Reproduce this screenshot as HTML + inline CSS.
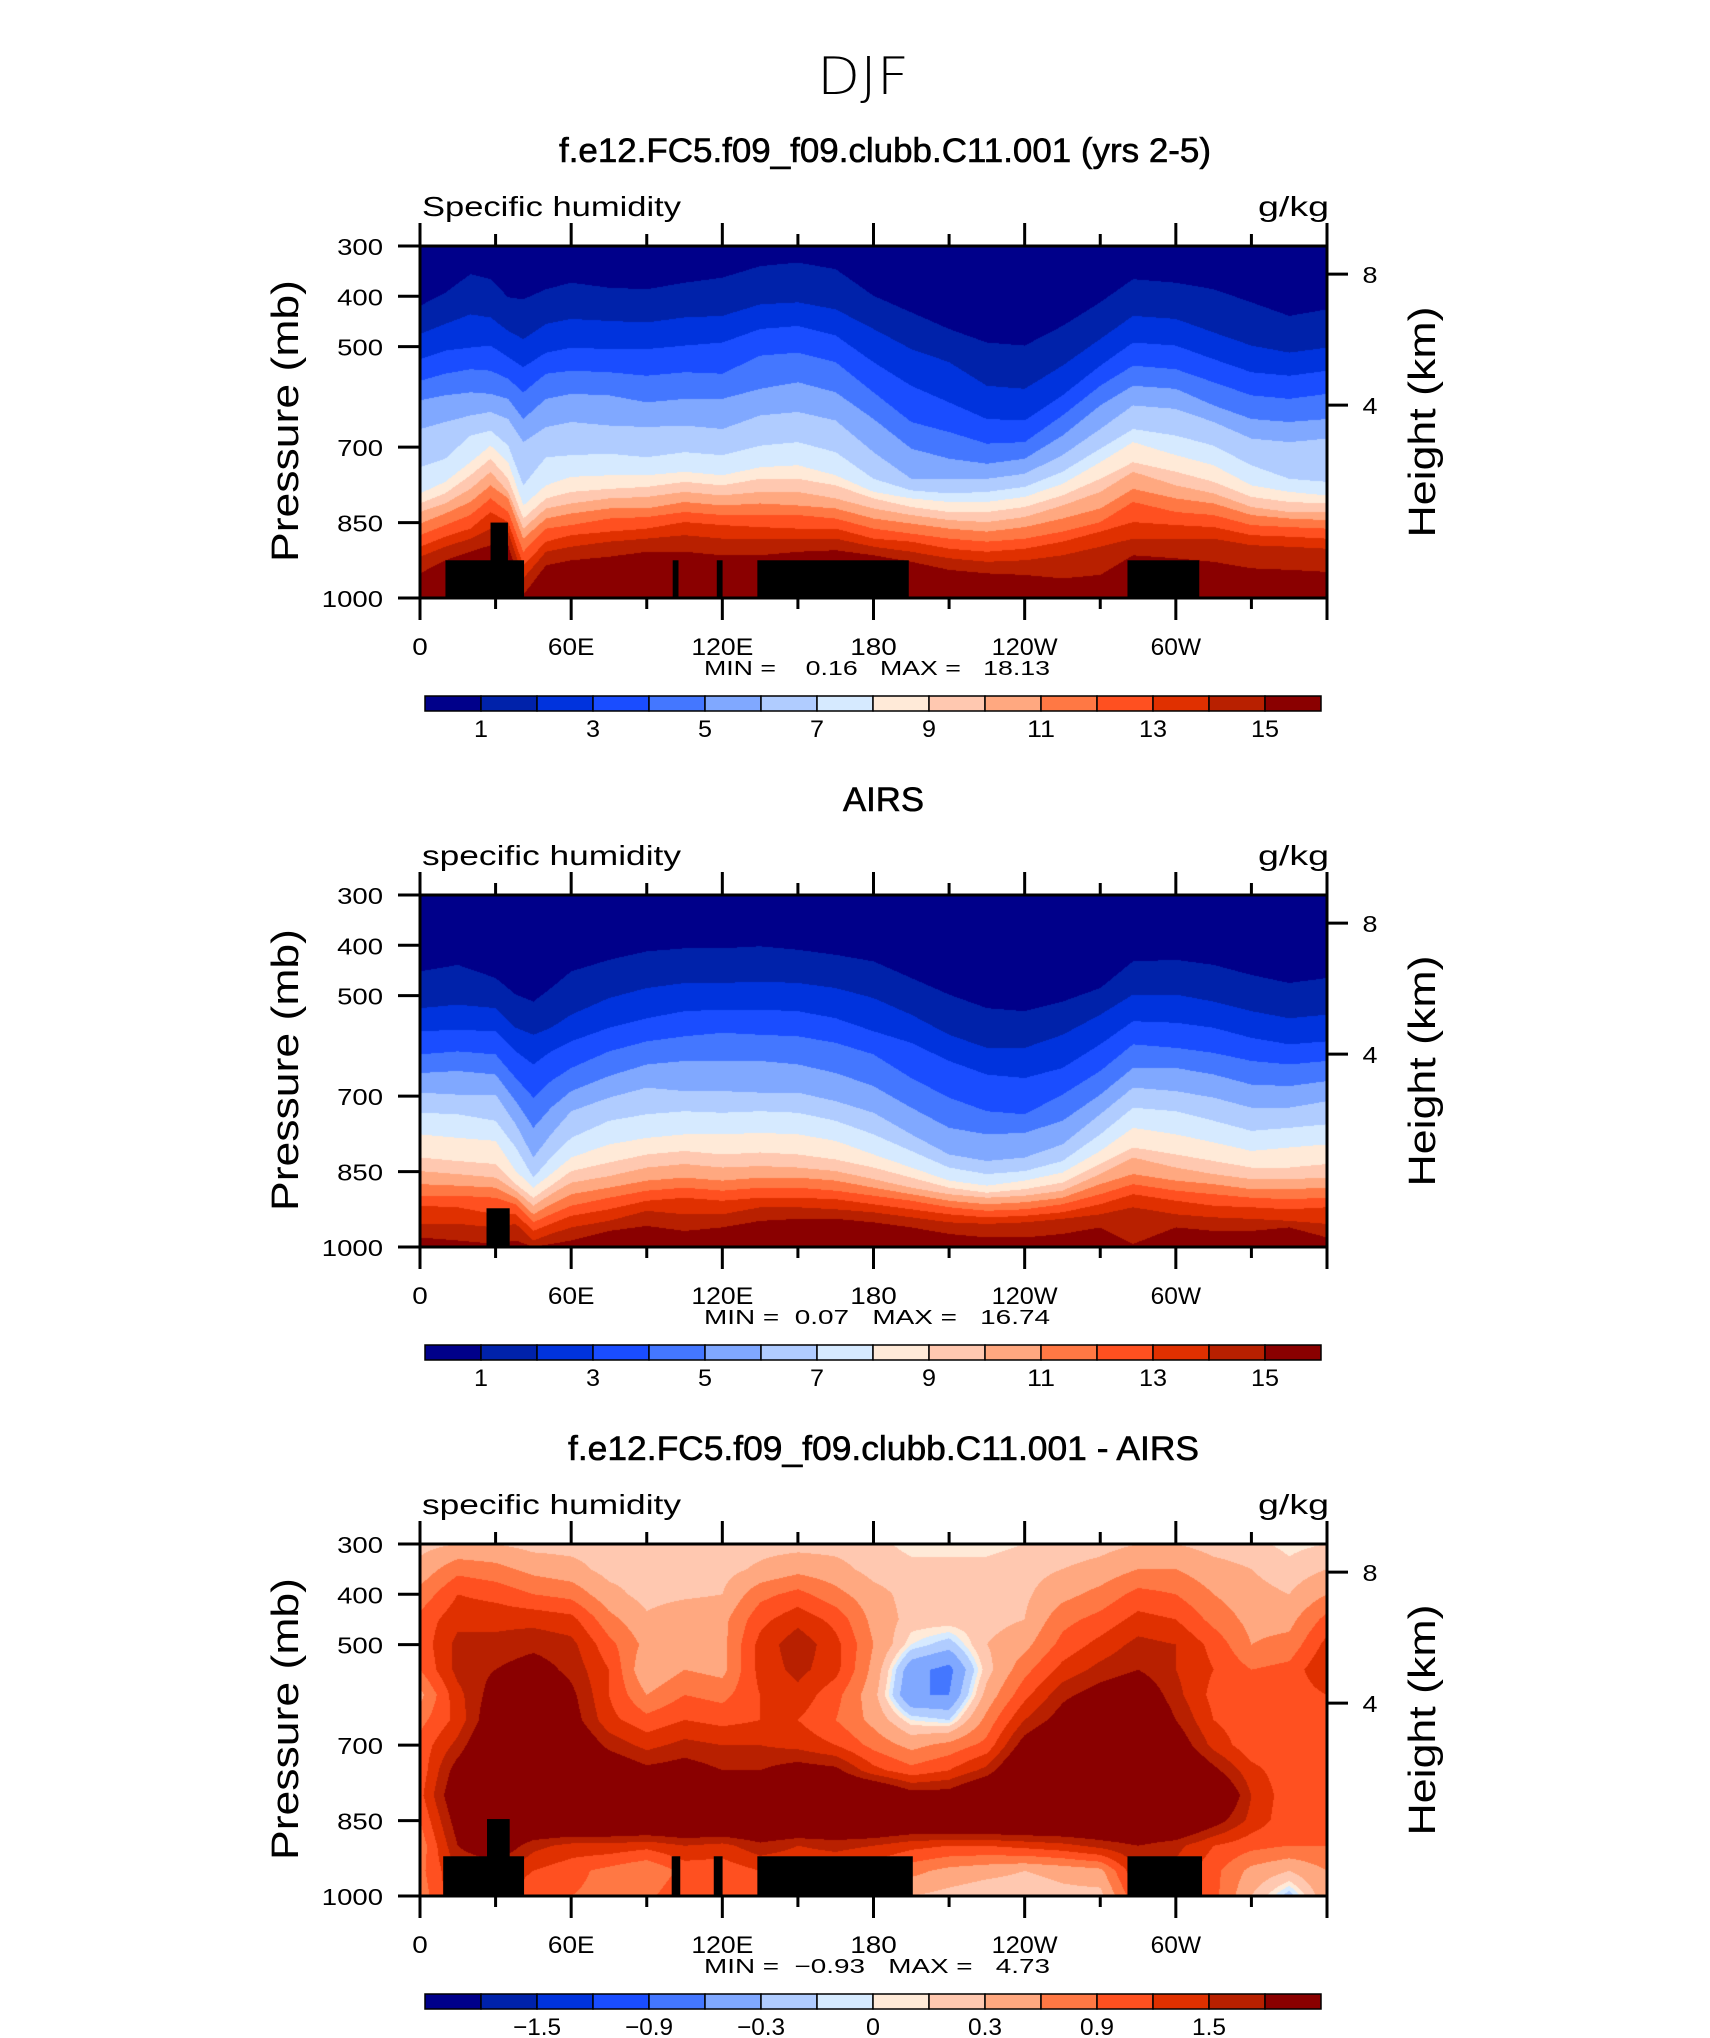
<!DOCTYPE html>
<html><head><meta charset="utf-8">
<style>
html,body{margin:0;padding:0;background:#fff;}
#wrap{position:relative;width:1710px;height:2038px;overflow:hidden;background:#fff;font-family:"Liberation Sans",sans-serif;}
canvas{position:absolute;left:420px;}
svg{position:absolute;left:0;top:0;}
</style></head>
<body>
<div id="wrap">
<canvas id="c0" width="907" height="352" style="top:246px"></canvas>
<canvas id="c1" width="907" height="352" style="top:895px"></canvas>
<canvas id="c2" width="907" height="352" style="top:1544px"></canvas>
<svg id="ov" width="1710" height="2038" xmlns="http://www.w3.org/2000/svg">
<text x="863" y="94" font-size="52" text-anchor="middle" font-weight="200" font-family="DejaVu Sans ExtraLight, DejaVu Sans, Liberation Sans, sans-serif" textLength="92" lengthAdjust="spacingAndGlyphs">DJF</text>
</svg>
</div>
<script>
// ---------- DATA ----------
const colors = ["#00008A","#0022AA","#0033DD","#1A4DFF","#4477FF","#80A8FF","#B0CCFF","#D6EAFF","#FFEAD8","#FFC8B0","#FFA880","#FF7844","#FF5020","#E03000","#B82000","#8A0000"];
const qLevels = [1,2,3,4,5,6,7,8,9,10,11,12,13,14,15];
const diffLevels = [-1.8,-1.5,-1.2,-0.9,-0.6,-0.3,-0.1,0,0.1,0.3,0.6,0.9,1.2,1.5,1.8];
const qLabels = ["1","3","5","7","9","11","13","15"];
const qLabelIdx = [0,2,4,6,8,10,12,14];
const diffLabels = ["\u22121.5","\u22120.9","\u22120.3","0","0.3","0.9","1.5"];
const diffLabelIdx = [1,3,5,7,9,11,13];
const xTickLons = [0,60,120,180,240,300];
const xTickLabels = ["0","60E","120E","180","120W","60W"];
const pTicks = [300,400,500,700,850,1000];
const hTicks = [8,4];
const titles = ["f.e12.FC5.f09_f09.clubb.C11.001 (yrs 2-5)","AIRS","f.e12.FC5.f09_f09.clubb.C11.001 - AIRS"];
const varNames = ["Specific humidity","specific humidity","specific humidity"];
const minVals = ["0.16","0.07","\u22120.93"];
const maxVals = ["18.13","16.74","4.73"];

const lonNodes1 = [0,10,20,28,35,41,50,60,75,90,105,120,135,150,165,180,195,210,225,240,255,270,283,300,315,330,345,360];
const modelContours = [
[419,475,525,568,607,664,740,792,812,829,852,875,898,918,951],
[393,455,508,554,597,650,723,769,792,812,832,855,878,898,925],
[356,436,502,545,591,637,677,730,756,783,809,835,862,882,908],
[366,442,498,548,594,630,667,697,723,749,776,802,829,862,895],
[402,469,521,564,604,644,697,730,763,789,802,829,849,868,895],
[406,485,541,591,644,690,776,816,842,862,882,908,935,961,994],
[386,455,512,554,604,660,720,776,802,822,842,862,888,908,935],
[373,445,502,548,594,650,716,759,789,812,832,855,875,898,925],
[383,449,505,551,597,657,713,756,783,802,822,842,868,888,918],
[386,452,505,558,611,660,720,756,779,799,822,839,862,882,908],
[373,442,498,551,604,657,710,749,769,789,809,829,849,875,908],
[363,439,492,554,604,664,716,756,776,796,816,835,855,882,915],
[340,416,465,518,584,637,697,740,763,789,812,835,859,882,915],
[333,412,459,512,571,630,690,736,763,789,816,835,862,882,908],
[346,426,478,531,591,647,710,756,776,802,822,842,862,882,905],
[399,465,531,591,644,710,763,789,802,822,842,862,882,898,915],
[432,505,578,650,703,763,786,802,819,835,852,872,888,908,928],
[465,531,611,670,723,763,792,809,829,845,862,882,902,921,944],
[492,578,644,693,733,763,789,809,829,849,868,888,908,928,951],
[498,584,647,690,723,753,779,799,819,839,859,882,902,925,954],
[459,538,597,637,677,716,749,773,796,816,842,868,888,915,961],
[412,485,538,578,617,664,703,730,763,789,822,849,868,898,954],
[366,439,492,538,578,617,664,690,730,749,783,809,849,882,915],
[373,445,498,545,584,624,677,716,749,776,802,829,855,882,921],
[386,472,525,571,617,650,697,736,769,792,812,835,859,882,928],
[412,498,551,597,644,683,736,776,799,819,835,855,875,895,941],
[439,512,558,604,650,690,763,789,809,829,842,859,878,898,944],
[426,502,548,594,644,683,769,796,812,829,845,862,882,902,948]
];

const lonNodes2 = [0,15,30,38,45,52,60,75,90,105,120,135,150,165,180,195,210,225,240,255,270,283,300,315,330,345,360];
const airsContours = [
[452,525,571,617,654,693,733,776,822,849,875,898,918,954,981],
[439,518,568,611,650,697,736,783,829,855,878,898,921,954,987],
[465,525,571,617,657,697,749,789,835,862,882,902,935,961,994],
[498,564,611,664,710,756,802,849,875,888,902,915,935,954,987],
[512,578,637,703,763,822,862,882,902,918,935,951,968,987,1000],
[485,564,611,670,723,776,822,855,878,895,915,935,954,974,994],
[452,538,591,644,690,730,783,822,849,872,895,918,938,961,987],
[429,505,564,611,660,703,749,796,832,859,882,902,925,948,968],
[412,485,545,591,637,683,736,783,816,842,868,888,908,928,958],
[406,475,531,581,630,690,730,776,809,835,862,882,902,935,968],
[406,475,528,574,630,690,733,776,816,842,868,888,908,935,961],
[402,472,528,578,630,693,730,773,812,839,862,882,902,921,948],
[409,475,531,581,637,693,733,776,816,842,862,882,902,921,944],
[419,485,545,594,654,710,749,789,826,849,868,888,905,925,944],
[432,505,571,617,680,733,776,816,842,865,882,898,915,931,951],
[465,538,594,664,723,776,809,842,862,882,895,908,925,941,961],
[498,578,630,703,763,816,842,868,882,895,908,921,935,951,974],
[525,604,657,730,776,829,855,878,892,902,915,928,941,954,981],
[531,604,664,736,773,822,849,868,885,898,911,925,938,951,981],
[512,578,644,697,749,796,829,852,872,888,902,915,931,944,974],
[485,538,597,650,697,736,776,809,835,855,875,895,915,935,961],
[432,498,551,597,644,683,723,763,802,822,855,875,895,921,994],
[429,498,554,604,644,690,730,776,816,842,868,888,908,935,961],
[439,512,564,614,657,703,749,792,829,855,875,895,918,941,968],
[459,531,584,630,677,723,769,809,842,865,885,902,921,944,968],
[475,545,597,637,680,723,763,802,842,865,885,905,925,948,961],
[465,538,591,630,670,710,756,796,835,862,882,902,921,954,981]
];

const lonNodes3 = [0,15,30,45,60,75,90,105,120,135,150,165,180,195,210,225,240,255,270,285,300,315,330,345,360];
const pLevels3 = [300,350,400,450,500,550,600,650,700,750,800,850,900,950,1000];
const diffValues = [
[0.2,0.4,0.7,1.0,1.0,0.9,0.5,0.8,1.0,1.0,1.1,0.9,0.7,0.8,0.7],
[0.3,0.8,1.2,1.4,1.6,1.6,1.4,1.3,1.6,2.0,2.2,2.0,1.8,1.5,1.5],
[0.3,0.7,1.1,1.4,1.6,1.8,2.0,2.2,2.5,2.5,2.5,2.5,2.2,1.5,1.5],
[0.2,0.5,0.9,1.4,1.7,2.0,2.3,2.2,2.5,2.5,2.5,2.5,1.6,1.2,0.9],
[0.2,0.4,0.8,1.3,1.6,1.7,1.9,2.0,2.3,2.5,2.5,2.5,1.4,1.0,0.9],
[0.2,0.2,0.4,0.7,1.0,1.2,1.2,1.3,1.7,2.2,2.5,2.5,1.4,0.8,0.8],
[0.2,0.2,0.2,0.35,0.5,0.3,0.6,1.0,1.4,1.9,2.5,2.5,1.3,0.6,0.8],
[0.2,0.2,0.25,0.5,0.6,0.6,0.9,1.2,1.6,2.0,2.5,2.5,1.5,1.0,1.2],
[0.2,0.2,0.3,0.5,0.5,0.5,0.8,1.1,1.5,1.8,2.3,2.5,1.4,1.0,1.0],
[0.2,0.35,0.8,1.1,1.3,1.3,1.2,1.2,1.5,1.8,2.3,2.5,1.7,1.2,1.0],
[0.2,0.5,1.0,1.4,1.7,1.6,1.4,1.2,1.4,2.0,2.5,2.5,1.5,1.2,1.2],
[0.2,0.4,0.7,1.1,1.3,1.3,1.0,0.9,1.2,1.9,2.5,2.5,1.6,1.2,1.1],
[0.15,0.2,0.4,0.5,0.6,0.5,0.4,0.5,0.8,1.3,2.5,2.5,1.5,1.0,0.9],
[0.05,0.15,0.2,0.2,0.0,-0.5,-0.6,0.0,0.5,1.0,2.0,2.4,1.3,0.7,0.3],
[0.05,0.15,0.2,0.2,-0.2,-0.7,-0.6,-0.1,0.7,1.2,2.0,2.5,1.2,0.5,0.2],
[0.05,0.15,0.2,0.2,0.3,0.2,0.4,0.7,1.0,1.6,2.5,2.5,1.2,0.4,0.1],
[0.1,0.2,0.25,0.3,0.5,0.8,1.1,1.5,2.0,2.5,2.5,2.5,1.3,0.3,0.1],
[0.15,0.3,0.5,0.8,1.0,1.3,1.7,2.0,2.5,2.5,2.5,2.5,1.4,0.4,0.2],
[0.2,0.4,0.7,1.0,1.3,1.6,2.0,2.5,2.5,2.5,2.5,2.5,1.6,0.5,0.2],
[0.3,0.6,1.0,1.3,1.6,1.8,2.2,2.5,2.5,2.5,2.5,2.5,1.8,1.5,1.2],
[0.3,0.6,0.9,1.2,1.5,1.5,1.6,1.8,2.1,2.5,2.5,2.5,1.6,1.4,1.4],
[0.2,0.4,0.6,0.8,1.1,1.2,1.1,1.2,1.4,1.9,2.5,2.0,1.2,1.0,1.0],
[0.15,0.3,0.4,0.5,0.6,0.9,1.0,1.0,1.0,1.3,1.5,1.4,1.0,0.5,0.3],
[0.05,0.15,0.3,0.5,0.7,1.0,1.0,1.0,1.0,1.0,1.0,1.0,0.9,0.3,-0.2],
[0.1,0.3,0.6,1.0,1.3,1.5,1.2,1.0,1.0,1.0,1.0,1.0,0.9,0.6,0.5]
];

const masksModel = [[10.1,41.3,925],[28,34.9,850],[100.3,102.6,925],[117.8,120.1,925],[133.9,194,925],[280.8,309.3,925]];
const masksAirs = [[26.4,35.6,923]];
const masksDiff = [[9.2,41.3,921],[26.6,35.6,847],[99.9,103.3,921],[116.6,120.1,921],[133.9,195.6,921],[280.8,310.4,921]];

// ---------- AXES ----------
const PX = 420, PW = 907, PH = 352;
const panelTops = [246, 895, 1544];
function xScale(lon){ return PX + lon/360*PW; }
function yScale(p, top){ return top + (p-300)/700*PH; }
function hToP(km){ return 1013.25*Math.pow(1-2.25577e-5*km*1000, 5.25588); }

function interpRow(nodes, rows, lon){
  let i=0; while(i<nodes.length-2 && lon>nodes[i+1]) i++;
  const t=(lon-nodes[i])/(nodes[i+1]-nodes[i]);
  const a=rows[i], b=rows[i+1];
  return a.map((v,k)=>v+(b[k]-v)*t);
}
function hexToRgb(h){ return [parseInt(h.substr(1,2),16),parseInt(h.substr(3,2),16),parseInt(h.substr(5,2),16)]; }
const rgb = colors.map(hexToRgb);

function drawContourPanel(cid, nodes, rows){
  const cv=document.getElementById(cid), ctx=cv.getContext('2d');
  const img=ctx.createImageData(PW,PH);
  for(let x=0;x<PW;x++){
    const lon=(x+0.5)/PW*360;
    const bp=interpRow(nodes,rows,lon);
    for(let y=0;y<PH;y++){
      const p=300+(y+0.5)/PH*700;
      let band=0; for(let k=0;k<bp.length;k++) if(bp[k]<p) band++;
      const c=rgb[band], o=(y*PW+x)*4;
      img.data[o]=c[0];img.data[o+1]=c[1];img.data[o+2]=c[2];img.data[o+3]=255;
    }
  }
  ctx.putImageData(img,0,0);
}
function drawGridPanel(cid, nodes, plevs, rows, levels){
  const cv=document.getElementById(cid), ctx=cv.getContext('2d');
  const img=ctx.createImageData(PW,PH);
  for(let x=0;x<PW;x++){
    const lon=(x+0.5)/PW*360;
    const col=interpRow(nodes,rows,lon);
    for(let y=0;y<PH;y++){
      const p=300+(y+0.5)/PH*700;
      let j=0; while(j<plevs.length-2 && p>plevs[j+1]) j++;
      const t=(p-plevs[j])/(plevs[j+1]-plevs[j]);
      const v=col[j]+(col[j+1]-col[j])*t;
      let band=0; for(let k=0;k<levels.length;k++) if(v>=levels[k]) band++;
      const c=rgb[band], o=(y*PW+x)*4;
      img.data[o]=c[0];img.data[o+1]=c[1];img.data[o+2]=c[2];img.data[o+3]=255;
    }
  }
  ctx.putImageData(img,0,0);
}
drawContourPanel('c0', lonNodes1, modelContours);
drawContourPanel('c1', lonNodes2, airsContours);
drawGridPanel('c2', lonNodes3, pLevels3, diffValues, diffLevels);

const NS="http://www.w3.org/2000/svg";
const svg=document.getElementById('ov');
function mk(tag, attrs, parent){
  const e=document.createElementNS(NS,tag);
  for(const k in attrs) e.setAttribute(k,attrs[k]);
  (parent||svg).appendChild(e); return e;
}
function txt(str, attrs, parent){
  const e=mk('text', Object.assign({'font-family':'Liberation Sans, sans-serif'},attrs), parent);
  e.textContent=str; return e;
}

const allMasks=[masksModel,masksAirs,masksDiff];
const titleStart=[559,843,568], titleLen=[652,81,631];
const minStr=["MIN =    ","MIN =  ","MIN =  "];
for(let i=0;i<3;i++){
  const top=panelTops[i], dy=i*649;
  const g=mk('g',{});
  
  
  allMasks[i].forEach(m=>{
    const r=mk('rect',{x:xScale(m[0]),y:yScale(m[2],top),width:xScale(m[1])-xScale(m[0]),height:yScale(1000,top)-yScale(m[2],top),fill:'#000'},g);
    
    
  });
  const t=txt(titles[i],{x:titleStart[i],y:162+dy,'font-size':34,textLength:titleLen[i],lengthAdjust:'spacingAndGlyphs',stroke:'#000','stroke-width':0.6},g);
  
  
  const vn=txt(varNames[i],{x:422,y:216+dy,'font-size':28,textLength:259,lengthAdjust:'spacingAndGlyphs'},g);
  
  
  const un=txt('g/kg',{x:1258,y:216+dy,'font-size':28,textLength:71,lengthAdjust:'spacingAndGlyphs'},g);
  
  
  const fr=mk('rect',{x:PX,y:top,width:PW,height:PH,fill:'none',stroke:'#000','stroke-width':3},g);
  
  
  for(let lon=0;lon<=360;lon+=30){
    const x=xScale(lon), major=(lon%60===0);
    const l1=mk('line',{x1:x,x2:x,y1:top,y2:top-(major?23:12),stroke:'#000','stroke-width':3},g);
    
    
    const l2=mk('line',{x1:x,x2:x,y1:top+PH,y2:top+PH+(major?22:11),stroke:'#000','stroke-width':3},g);
    
    
  }
  xTickLons.forEach((lon,k)=>{
    const s=xTickLabels[k];
    const tl=txt(s,{x:xScale(lon),y:655+dy,'font-size':24,'text-anchor':'middle',textLength:s.length*15.5+(s.indexOf('W')>=0?4:0),lengthAdjust:'spacingAndGlyphs'},g);
    
    
  });
  pTicks.forEach(p=>{
    const y=yScale(p,top);
    const l=mk('line',{x1:398,x2:PX,y1:y,y2:y,stroke:'#000','stroke-width':3},g);
    
    
    const s=String(p);
    const tl=txt(s,{x:383,y:y+9,'font-size':23,'text-anchor':'end',textLength:s.length*15.3,lengthAdjust:'spacingAndGlyphs'},g);
    
    
  });
  hTicks.forEach(h=>{
    const y=yScale(hToP(h),top);
    const l=mk('line',{x1:PX+PW,x2:1348,y1:y,y2:y,stroke:'#000','stroke-width':3},g);
    
    
    const tl=txt(String(h),{x:1370,y:y+9,'font-size':23,'text-anchor':'middle',textLength:15,lengthAdjust:'spacingAndGlyphs'},g);
    
    
  });
  const ya=txt('Pressure (mb)',{x:0,y:0,'font-size':38,'text-anchor':'middle',textLength:282,lengthAdjust:'spacingAndGlyphs',transform:'translate(298,'+(421+dy)+') rotate(-90)'},g);
  
  
  const ha=txt('Height (km)',{x:0,y:0,'font-size':38,'text-anchor':'middle',textLength:231,lengthAdjust:'spacingAndGlyphs',transform:'translate(1435,'+(422+dy)+') rotate(-90)'},g);
  
  
  const mm=txt(minStr[i]+minVals[i]+"   MAX =   "+maxVals[i],{x:704,y:675+dy,'font-size':20,textLength:346,lengthAdjust:'spacingAndGlyphs','xml:space':'preserve'},g);
  mm.setAttribute('style','white-space:pre');
  
  
  const cb=mk('g',{},g);
  
  
  colors.forEach((c,k)=>{
    const r=mk('rect',{x:425+k*56,y:696+dy,width:56,height:15,fill:c,stroke:'#000','stroke-width':1.5},cb);
    
    
  });
  const labs = i<2 ? qLabels : diffLabels;
  const idx = i<2 ? qLabelIdx : diffLabelIdx;
  labs.forEach((s,k)=>{
    const bx=425+(idx[k]+1)*56;
    const tl=txt(s,{x:bx,y:737+dy,'font-size':24,'text-anchor':'middle',textLength:s.replace('.','').length*14+(s.indexOf('.')>=0?6:0),lengthAdjust:'spacingAndGlyphs'},cb);
    
    
  });
}
</script>
</body></html>
